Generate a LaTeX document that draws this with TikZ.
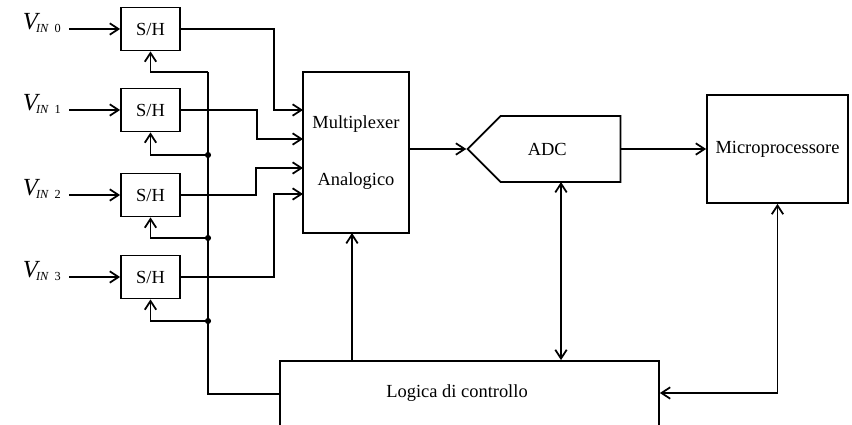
\documentclass[tikz,border=0pt]{standalone}
\usepackage{fontspec}
\setmainfont{Liberation Serif}
\usetikzlibrary{arrows.meta,shapes.symbols}
\tikzset{
  blk/.style = {draw=black, line width=1pt, fill=white, align=center,
    inner sep=0pt, font=\fontsize{10.5}{12}\selectfont},% blocco generico
  blk_sh/.style = {blk, minimum width=1.18cm, minimum height=0.86cm},% sample and hold
  blk_mux/.style = {blk, minimum width=2.12cm, minimum height=3.22cm},% multiplexer
  blk_adc/.style = {blk, signal, signal to=west,
    minimum width=3.06cm, minimum height=1.32cm},% convertitore
  blk_up/.style = {blk, minimum width=2.82cm, minimum height=2.16cm},% microprocessore
  blk_log/.style = {blk, minimum width=7.58cm, minimum height=1.58cm},% logica
  ingresso/.style = {anchor=base east, inner xsep=4pt, inner ysep=0pt,
    font=\fontsize{10}{12}\selectfont},% etichetta V_IN
  filo/.style = {line width=1pt},
  giunto/.style = {circle, fill=black, inner sep=0pt, minimum size=3.5pt}
}

\begin{document}
\begin{tikzpicture}[x=0.02cm, y=-0.02cm, line join=miter,
                    >={Straight Barb[length=5pt,width=6.5pt]}]
	\useasboundingbox (0,0) rectangle (852,425);
	% sample and hold con ingressi
	\foreach \i/\y in {0/29,1/110,2/195,3/277}{
	  \node [blk_sh] (sh\i) at (150.5,\y) {S/H};
	  \node [ingresso] (vin\i) at (69,\y+1)
	    {{\fontsize{14}{15}\selectfont\itshape V}\kern-1pt\textsubscript{\itshape IN\enspace\upshape\i}};
	  \draw [->,filo] (vin\i.east |- sh\i.west) -- (sh\i.west);
	}
	\node [blk_mux] (mux) at (356,152.5) {Multiplexer\\[20pt]Analogico};
	\node [blk_adc] (adc) at (560.5,149) {ADC\hspace*{15pt}};
	\node [blk_up] (micro) at (777.5,149) {Microprocessore};
	\node [blk_log] (logica) at (469.5,400.5) {};
	\node [font=\fontsize{10.5}{12}\selectfont] (logtxt) at (457,393) {Logica di controllo};
	% ingressi del multiplexer
	\coordinate (m0) at (303,110);
	\coordinate (m1) at (303,139);
	\coordinate (m2) at (303,168);
	\coordinate (m3) at (303,194);
	\draw [->,filo] (sh0.east) -- ++(93,0) |- (m0);
	\draw [->,filo] (sh1.east) -- ++(76,0) |- (m1);
	\draw [->,filo] (sh2.east) -- ++(75,0) |- (m2);
	\draw [->,filo] (sh3.east) -- ++(93,0) |- (m3);
	% bus di controllo
	\coordinate (bus0) at (208,72);
	\coordinate (bus4) at (208,394);
	\draw [filo] (bus0) -- (bus4) -- (bus4 -| logica.west);
	\draw [->,filo] (bus0) -| (sh0.south);
	\node [giunto] (g1) at (208,155) {};
	\node [giunto] (g2) at (208,238) {};
	\node [giunto] (g3) at (208,321) {};
	\draw [->,filo] (g1.center) -| (sh1.south);
	\draw [->,filo] (g2.center) -| (sh2.south);
	\draw [->,filo] (g3.center) -| (sh3.south);
	% catena del segnale
	\coordinate (mxb) at (352,233);
	\draw [->,filo] (mux.east |- adc.west) -- (adc.west);
	\draw [->,filo] (adc.east) -- (micro.west);
	\draw [->,filo] (mxb |- logica.north) -- (mxb);
	\coordinate (adcb) at (561,182);
	\draw [<->,filo] (adcb) -- (adcb |- logica.north);
	\draw [<->,filo] (micro.south) |- (logica.east |- logtxt);
\end{tikzpicture}
\end{document}
